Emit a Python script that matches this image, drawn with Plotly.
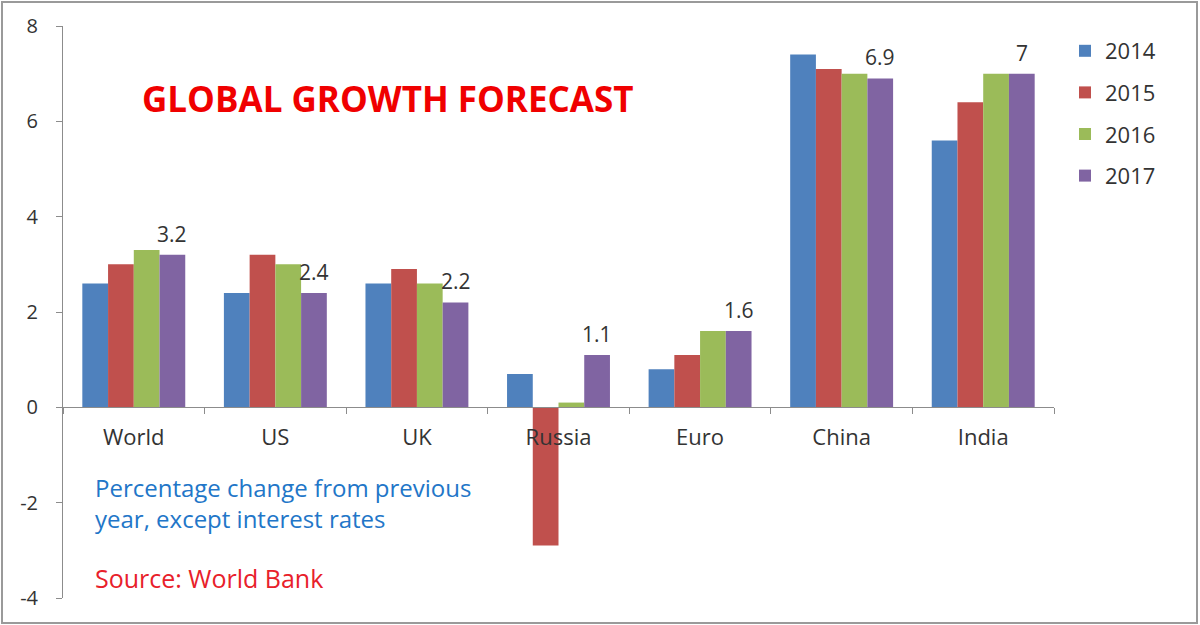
import plotly.graph_objects as go

categories = ["World", "US", "UK", "Russia", "Euro", "China", "India"]
years = ["2014", "2015", "2016", "2017"]
v2014 = [2.6, 2.4, 2.6, 0.7, 0.8, 7.4, 5.6]
v2015 = [3.0, 3.2, 2.9, -2.9, 1.1, 7.1, 6.4]
v2016 = [3.3, 3.0, 2.6, 0.1, 1.6, 7.0, 7.0]
v2017 = [3.2, 2.4, 2.2, 1.1, 1.6, 6.9, 7.0]
labels2017 = ["3.2", "2.4", "2.2", "1.1", "1.6", "6.9", "7"]
y_ticks = [-4, -2, 0, 2, 4, 6, 8]
y_ticktext = ["-4", "-2", "0", "2", "4", "6", "8"]

colors = ["#4F81BD", "#C0504D", "#9BBB59", "#8064A2"]
series = [v2014, v2015, v2016, v2017]
FONT = "Open Sans"

fig = go.Figure()
for i, (yr, vals) in enumerate(zip(years, series)):
    fig.add_trace(go.Bar(
        x=categories, y=vals, name=yr, legendgroup=yr,
        marker=dict(color=colors[i], line=dict(width=0)),
    ))

# plot area geometry (px)
L, R, T, B = 63, 1054, 26, 598
W, H = 1200, 625
pw, ph = R - L, B - T
def px(x):
    return (x - L) / pw
def py(y):
    return (B - y) / ph

bargap = 0.273
barw = pw / len(categories) * (1 - bargap) / 4

annotations = []
for c, v, t in zip(categories, v2017, labels2017):
    annotations.append(dict(
        x=c, y=v, xref="x", yref="y", text=t, showarrow=False,
        xshift=1.5 * barw, yshift=21, yanchor="middle",
        font=dict(family=FONT, size=21, color="#333333"),
    ))

annotations += [
    dict(x=px(140), y=py(99), xref="paper", yref="paper", xanchor="left", yanchor="middle",
         text="<b>GLOBAL GROWTH FORECAST</b>", showarrow=False,
         font=dict(family=FONT, size=35, color="#F00000")),
    dict(x=px(93), y=py(503), xref="paper", yref="paper", xanchor="left", yanchor="middle",
         align="left",
         text="Percentage change from previous<br>year, except interest rates", showarrow=False,
         font=dict(family=FONT, size=24, color="#2276C8")),
    dict(x=px(93), y=py(578), xref="paper", yref="paper", xanchor="left", yanchor="middle",
         text="Source: World Bank", showarrow=False,
         font=dict(family=FONT, size=25, color="#E8202A")),
]

fig.update_layout(
    template="none",
    width=W, height=H,
    margin=dict(l=L, r=W - R, t=T, b=H - B, pad=0, autoexpand=False),
    paper_bgcolor="white", plot_bgcolor="white",
    barmode="group", bargap=bargap, bargroupgap=0,
    font=dict(family=FONT, color="#333333"),
    showlegend=True,
    legend=dict(x=px(1065), y=py(30), xanchor="left", yanchor="top",
                font=dict(family=FONT, size=22, color="#333333"),
                tracegroupgap=10, bgcolor="rgba(0,0,0,0)", borderwidth=0),
    annotations=annotations,
    shapes=[dict(type="rect", xref="paper", yref="paper",
                 x0=px(2), x1=px(1197), y0=py(623), y1=py(2),
                 line=dict(color="#9A9A9A", width=2), layer="below")],
    xaxis=dict(
        type="category", anchor="free", position=4 / 12, automargin=False,
        showline=True, linecolor="#8C8C8C", linewidth=1,
        ticks="outside", tickson="boundaries", ticklen=6, tickcolor="#8C8C8C",
        tickfont=dict(family=FONT, size=22, color="#333333"),
        ticklabelstandoff=10,
        showgrid=False, zeroline=False,
    ),
    yaxis=dict(
        range=[-4, 8], tickvals=y_ticks, ticktext=y_ticktext, automargin=False,
        showline=True, linecolor="#8C8C8C", linewidth=1,
        ticks="outside", ticklen=6, tickcolor="#8C8C8C",
        tickfont=dict(family=FONT, size=20, color="#333333"),
        ticklabelstandoff=14,
        showgrid=False, zeroline=False,
    ),
)

fig.write_html(
    "out.html",
    config={"displayModeBar": False},
    post_script="document.body.style.margin='0';document.body.style.overflow='hidden';",
)
